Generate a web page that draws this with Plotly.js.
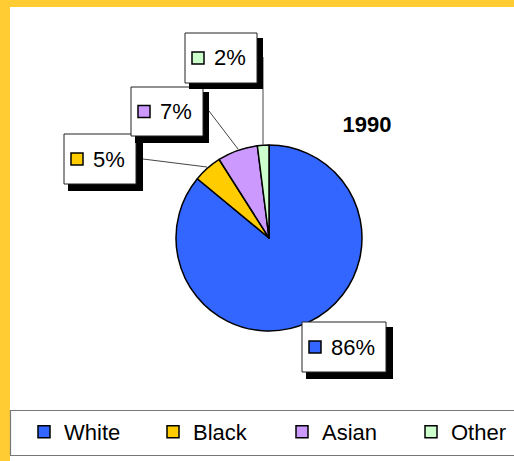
<!DOCTYPE html>
<html>
<head>
<meta charset="utf-8">
<script src="https://cdn.plot.ly/plotly-3.0.1.min.js"></script>
<style>html,body{margin:0;padding:0;background:#fff;}#chart{width:514px;height:461px;}</style>
</head>
<body>
<div id="chart"></div>
<script>
// ---- data ----
const categories = ["White", "Black", "Asian", "Other"];
const values = [86, 5, 7, 2];
const colors = ["#3366FF", "#FFCC00", "#CC99FF", "#CCFFCC"];
const title = "1990";

// ---- layout helpers (pixel -> paper) ----
const W = 514, H = 461;
const px = x => x / W;
const py = y => 1 - y / H;

const total = values.reduce((a, b) => a + b, 0);
const pct = values.map(v => Math.round(v / total * 100) + "%");

// label box geometry: [boxL, boxT, boxR, boxB, shadowL, shadowT, shadowR, shadowB]
const boxes = [
  [302, 322, 386, 372, 306, 327, 393, 379],
  [64, 134, 136, 184, 68, 139, 143, 191],
  [131, 87, 203, 136, 135, 92, 209, 143],
  [185, 33, 257, 83, 189, 38, 263, 89]
];
const leaders = [
  null,
  [143, 159, 207, 167],
  [209, 111, 238, 149],
  [263, 57, 263, 145]
];

const shapes = [];
const annotations = [];
// yellow frame
shapes.push({type: "rect", xref: "paper", yref: "paper", x0: 0, x1: px(10), y0: 0, y1: 1, fillcolor: "#FFCC33", line: {width: 0}, layer: "below"});
shapes.push({type: "rect", xref: "paper", yref: "paper", x0: 0, x1: 1, y0: py(7), y1: 1, fillcolor: "#FFCC33", line: {width: 0}, layer: "below"});
// legend frame
shapes.push({type: "rect", xref: "paper", yref: "paper", x0: px(10.5), x1: px(530), y0: py(455.5), y1: py(410.5), fillcolor: "rgba(0,0,0,0)", line: {color: "#777777", width: 1.2}, layer: "below"});

categories.forEach((c, i) => {
  const b = boxes[i];
  if (leaders[i]) {
    const l = leaders[i];
    shapes.push({type: "line", xref: "paper", yref: "paper", x0: px(l[0]), y0: py(l[1]), x1: px(l[2]), y1: py(l[3]), line: {color: "#444444", width: 1}, layer: "above"});
  }
  shapes.push({type: "rect", xref: "paper", yref: "paper", x0: px(b[4]), x1: px(b[6]), y0: py(b[7]), y1: py(b[5]), fillcolor: "#000000", line: {width: 0}, layer: "above"});
  shapes.push({type: "rect", xref: "paper", yref: "paper", x0: px(b[0]), x1: px(b[2]), y0: py(b[3]), y1: py(b[1]), fillcolor: "#FFFFFF", line: {color: "#222222", width: 1}, layer: "above"});
  const cy = (b[1] + b[3]) / 2;
  shapes.push({type: "rect", xref: "paper", yref: "paper", x0: px(b[0] + 7), x1: px(b[0] + 19), y0: py(cy + 6), y1: py(cy - 6), fillcolor: colors[i], line: {color: "#000000", width: 1.5}, layer: "above"});
  annotations.push({xref: "paper", yref: "paper", x: px(b[0] + 27), y: py(cy), xanchor: "left", yanchor: "middle", text: pct[i], showarrow: false, font: {family: "Liberation Sans, Arial, sans-serif", size: 22, color: "#000000"}});
});

const data = [{
  type: "pie",
  labels: categories,
  values: values,
  sort: false,
  direction: "clockwise",
  rotation: 0,
  textinfo: "none",
  hoverinfo: "label+percent",
  marker: {colors: colors, line: {color: "#000000", width: 1.5}},
  domain: {x: [px(176), px(362)], y: [py(331), py(145)]}
}];

const layout = {
  width: W, height: H,
  margin: {l: 0, r: 0, t: 0, b: 0, autoexpand: false},
  paper_bgcolor: "#FFFFFF",
  font: {family: "Liberation Sans, Arial, sans-serif", color: "#000000"},
  title: {text: "<b>" + title + "</b>", x: px(367), y: py(124), xanchor: "center", yanchor: "middle", xref: "paper", yref: "paper", font: {size: 22, family: "Liberation Sans, Arial, sans-serif", color: "#000000"}},
  showlegend: true,
  legend: {orientation: "h", x: px(24), y: py(411), xanchor: "left", yanchor: "top", font: {size: 22}, bgcolor: "rgba(0,0,0,0)", borderwidth: 0, itemwidth: 30, entrywidth: 84, entrywidthmode: "pixels", traceorder: "normal"},
  shapes: shapes,
  annotations: annotations
};

Plotly.newPlot("chart", data, layout, {displayModeBar: false, staticPlot: true});
</script>
</body>
</html>
